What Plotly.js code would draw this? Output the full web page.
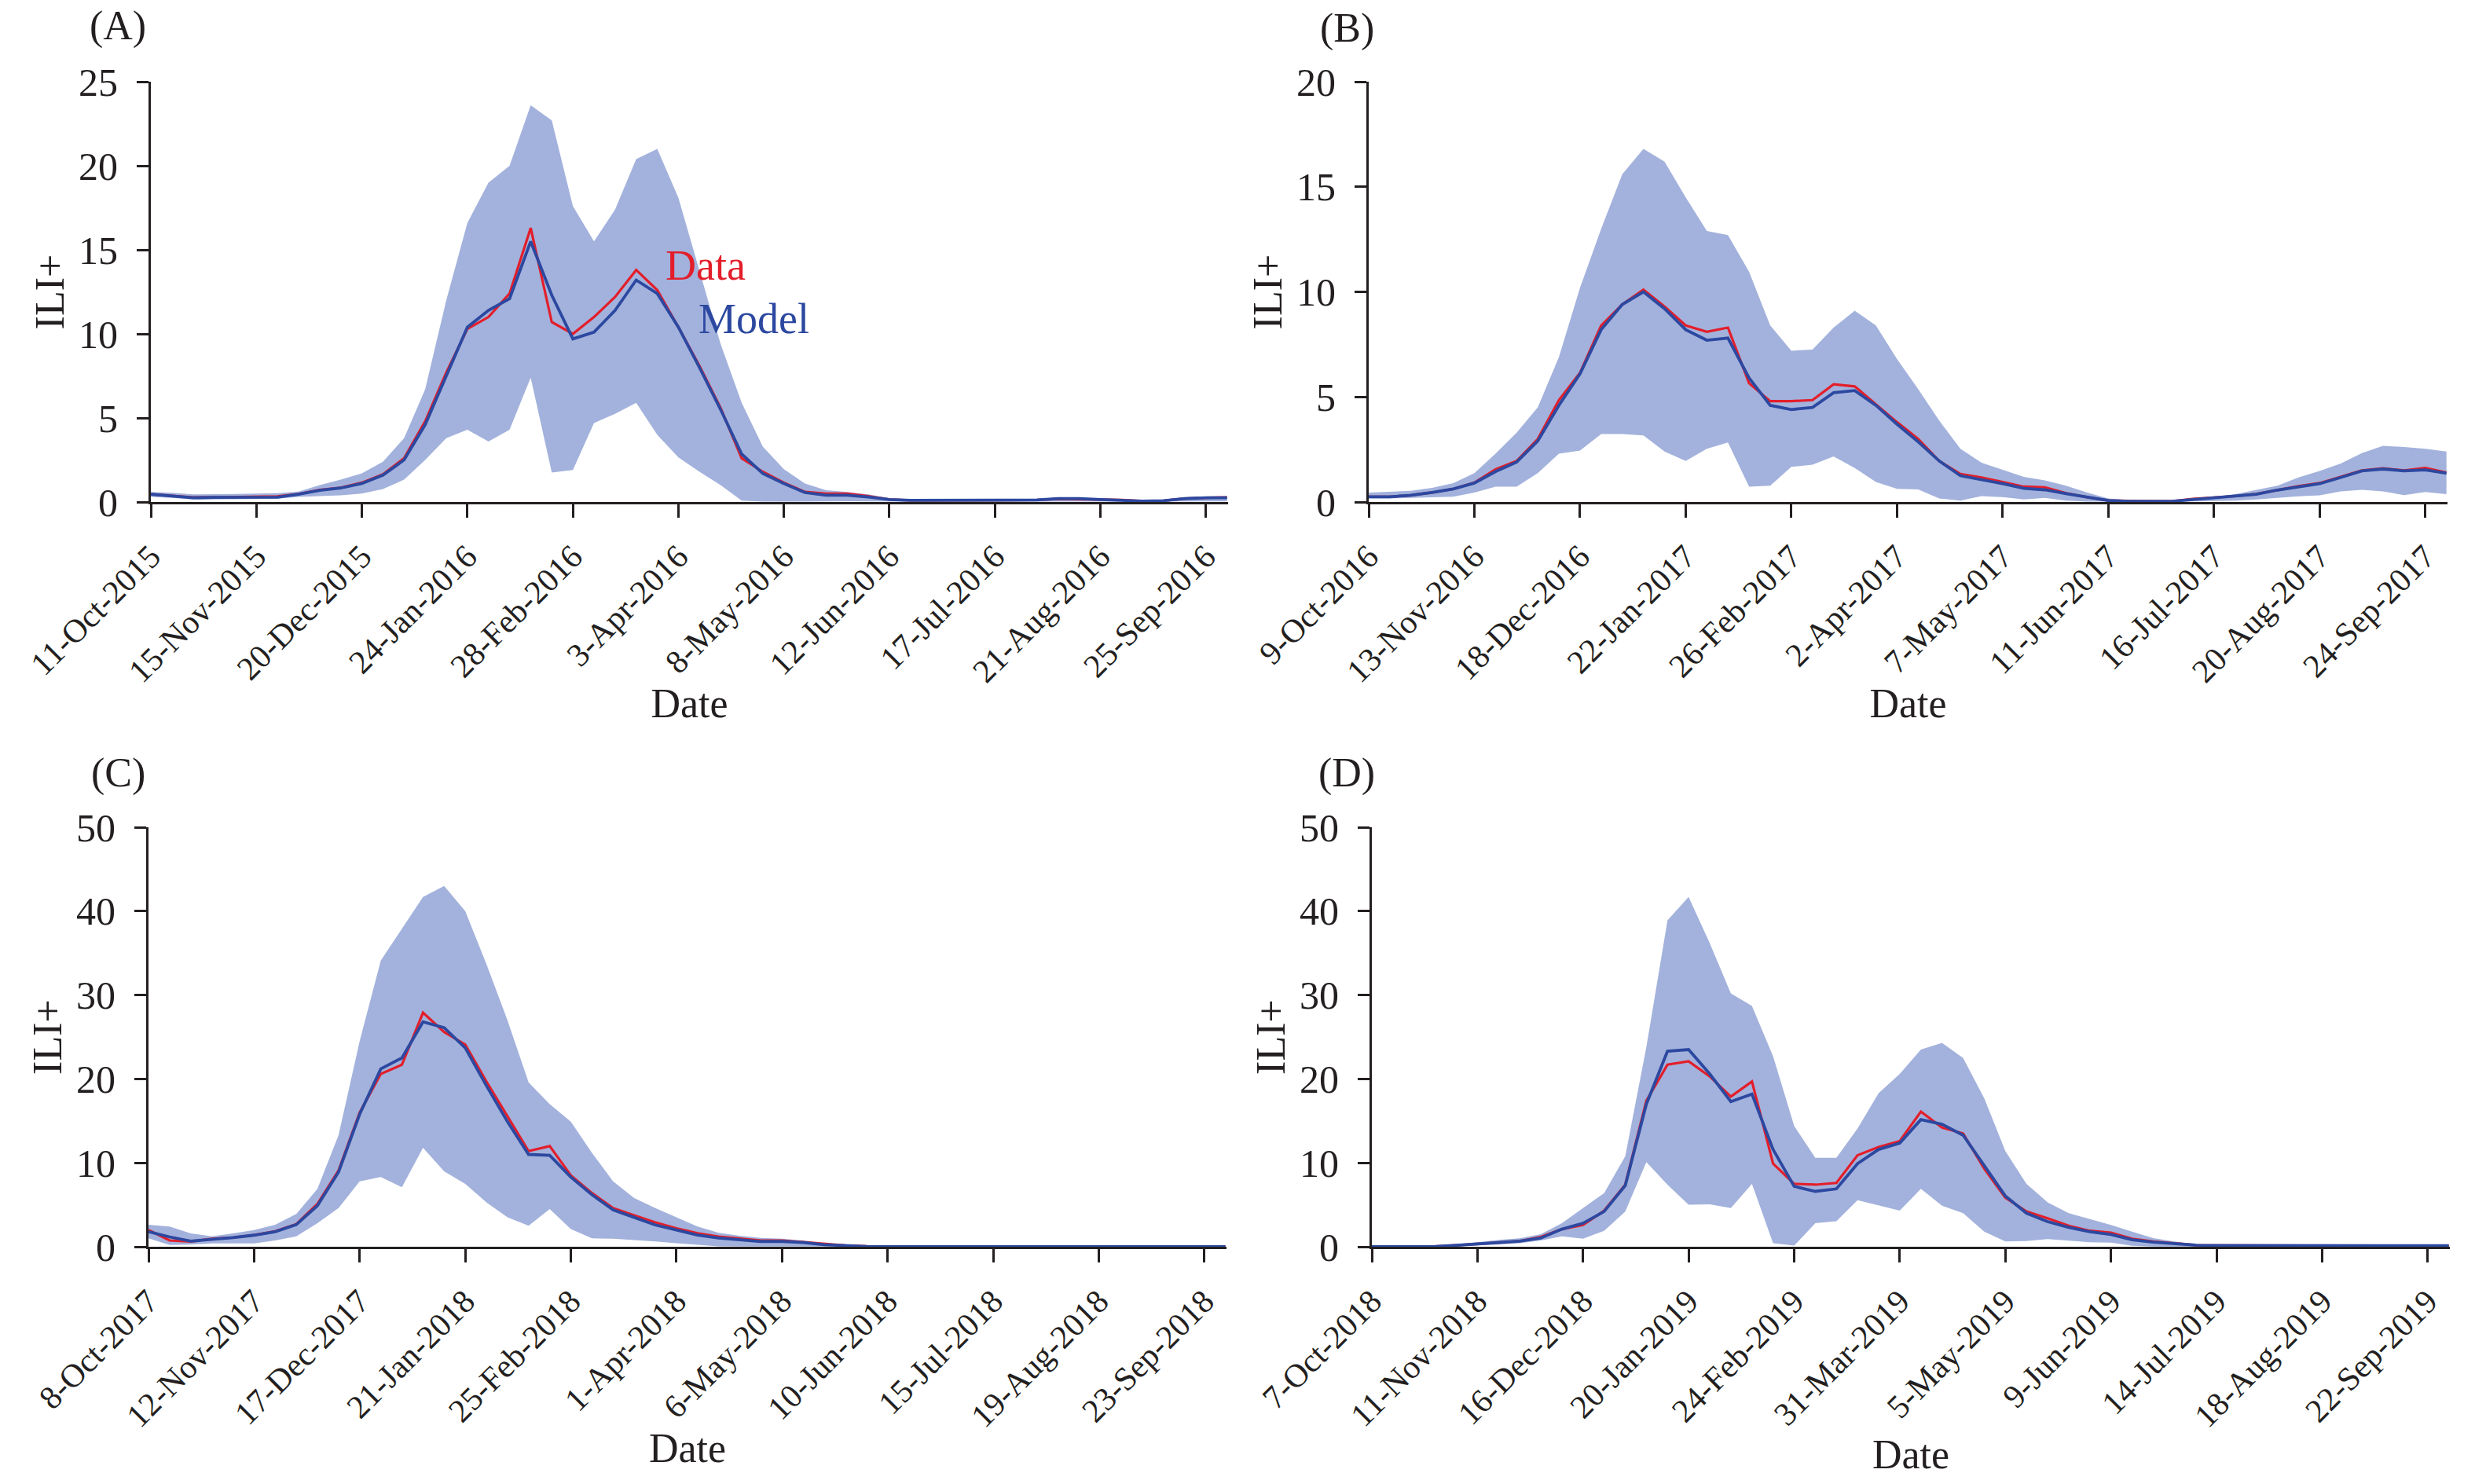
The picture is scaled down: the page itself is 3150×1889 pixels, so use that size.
<!DOCTYPE html>
<html>
<head>
<meta charset="utf-8">
<script src="https://cdn.plot.ly/plotly-3.0.1.min.js"></script>
<style>
  html, body { margin: 0; padding: 0; background: #ffffff; }
  #chart { width: 3150px; height: 1889px; }
</style>
</head>
<body>
<div id="chart"></div>
<script>
// ---------------- DATA (weekly values, 52 weeks per season) ----------------
const tickWeeks = [0, 5, 10, 15, 20, 25, 30, 35, 40, 45, 50];

const ticksA = ['11-Oct-2015','15-Nov-2015','20-Dec-2015','24-Jan-2016','28-Feb-2016','3-Apr-2016','8-May-2016','12-Jun-2016','17-Jul-2016','21-Aug-2016','25-Sep-2016'];
const ticksB = ['9-Oct-2016','13-Nov-2016','18-Dec-2016','22-Jan-2017','26-Feb-2017','2-Apr-2017','7-May-2017','11-Jun-2017','16-Jul-2017','20-Aug-2017','24-Sep-2017'];
const ticksC = ['8-Oct-2017','12-Nov-2017','17-Dec-2017','21-Jan-2018','25-Feb-2018','1-Apr-2018','6-May-2018','10-Jun-2018','15-Jul-2018','19-Aug-2018','23-Sep-2018'];
const ticksD = ['7-Oct-2018','11-Nov-2018','16-Dec-2018','20-Jan-2019','24-Feb-2019','31-Mar-2019','5-May-2019','9-Jun-2019','14-Jul-2019','18-Aug-2019','22-Sep-2019'];

// Panel A: 2015-2016
const dataA  = [0.46,0.35,0.27,0.28,0.3,0.32,0.33,0.48,0.72,0.85, 1.15,1.65,2.6,4.8,7.7,10.3,11.0,12.4,16.3,10.7, 10.0,11.0,12.2,13.8,12.6,10.4,8.1,5.6,2.6,1.8, 1.15,0.6,0.5,0.5,0.35,0.15,0.1,0.1,0.1,0.1, 0.1,0.1,0.12,0.18,0.18,0.15,0.12,0.05,0.08,0.2, 0.25,0.28];
const modelA = [0.46,0.35,0.25,0.27,0.28,0.29,0.29,0.46,0.7,0.83, 1.1,1.6,2.5,4.6,7.5,10.4,11.4,12.1,15.5,12.3, 9.7,10.1,11.4,13.2,12.4,10.4,8.0,5.5,2.85,1.7, 1.1,0.56,0.4,0.4,0.3,0.15,0.1,0.1,0.1,0.1, 0.1,0.1,0.12,0.2,0.2,0.15,0.12,0.05,0.08,0.2, 0.25,0.25];
const upperA = [0.6,0.55,0.45,0.45,0.48,0.5,0.52,0.62,1.0,1.33, 1.7,2.4,3.8,6.7,12.0,16.6,19.0,20.0,23.6,22.7, 17.6,15.5,17.4,20.4,21.0,18.1,13.8,9.4,5.9,3.3, 1.95,1.1,0.7,0.6,0.45,0.22,0.15,0.13,0.13,0.13, 0.13,0.14,0.16,0.25,0.25,0.2,0.16,0.1,0.15,0.28, 0.33,0.35];
const lowerA = [0.3,0.25,0.15,0.15,0.17,0.18,0.2,0.3,0.35,0.4, 0.5,0.77,1.33,2.5,3.8,4.3,3.6,4.3,7.4,1.75, 1.9,4.7,5.25,5.9,4.0,2.65,1.8,1.0,0.08,0.02, 0.02,0.03,0.05,0.05,0.03,0.02,0.02,0.02,0.02,0.02, 0.02,0.02,0.02,0.03,0.03,0.02,0.02,0.01,0.02,0.03, 0.04,0.04];

// Panel B: 2016-2017
const dataB  = [0.25,0.25,0.32,0.45,0.62,0.92,1.55,1.95,3.0,4.85, 6.15,8.4,9.4,10.1,9.3,8.4,8.1,8.3,5.65,4.8, 4.8,4.85,5.6,5.5,4.65,3.8,3.0,1.95,1.33,1.17, 0.95,0.73,0.7,0.42,0.23,0.07,0.05,0.05,0.03,0.15, 0.2,0.28,0.38,0.58,0.75,0.9,1.2,1.5,1.6,1.5, 1.62,1.4];
const modelB = [0.25,0.25,0.32,0.45,0.62,0.9,1.45,1.9,2.9,4.6, 6.1,8.2,9.4,10.0,9.2,8.2,7.7,7.8,5.9,4.6, 4.4,4.5,5.2,5.3,4.6,3.7,2.87,1.95,1.25,1.07, 0.87,0.65,0.58,0.4,0.23,0.07,0.03,0.03,0.03,0.12, 0.2,0.27,0.37,0.57,0.73,0.87,1.17,1.48,1.57,1.48, 1.53,1.37];
const upperB = [0.45,0.48,0.53,0.67,0.9,1.37,2.3,3.3,4.5,6.9, 10.2,13.0,15.6,16.8,16.2,14.5,12.9,12.7,10.95,8.4, 7.2,7.25,8.3,9.1,8.4,6.8,5.37,3.87,2.53,1.87, 1.53,1.2,1.03,0.78,0.45,0.17,0.08,0.07,0.07,0.13, 0.23,0.37,0.57,0.78,1.17,1.48,1.83,2.33,2.67,2.62, 2.53,2.4];
const lowerB = [0.17,0.17,0.2,0.23,0.25,0.45,0.73,0.73,1.37,2.3, 2.45,3.23,3.23,3.17,2.4,1.95,2.53,2.83,0.73,0.78, 1.67,1.78,2.17,1.62,0.95,0.63,0.6,0.17,0.07,0.28, 0.23,0.12,0.2,0.07,0.02,0.02,0.02,0.02,0.02,0.03, 0.05,0.07,0.12,0.2,0.27,0.32,0.5,0.58,0.5,0.33, 0.48,0.37];

// Panel C: 2017-2018
const dataC  = [2.0,0.75,0.63,0.96,1.1,1.4,1.85,2.7,5.1,9.1, 16.0,20.6,21.7,27.9,25.6,24.1,19.7,15.6,11.4,12.0, 8.5,6.4,4.6,3.75,2.9,2.2,1.6,1.2,0.96,0.75, 0.75,0.55,0.33,0.15,0.05,0.02,0.02,0.02,0.02,0.02, 0.02,0.02,0.02,0.02,0.02,0.02,0.02,0.02,0.02,0.02, 0.02,0.02];
const modelC = [1.8,1.17,0.67,0.88,1.08,1.38,1.8,2.63,4.9,8.9, 15.8,21.2,22.5,26.8,26.1,23.7,19.2,14.9,11.0,10.9, 8.3,6.2,4.4,3.5,2.6,2.0,1.4,1.05,0.83,0.63, 0.63,0.5,0.25,0.12,0.04,0.02,0.02,0.02,0.02,0.02, 0.02,0.02,0.02,0.02,0.02,0.02,0.02,0.02,0.02,0.02, 0.02,0.02];
const upperC = [2.63,2.42,1.6,1.25,1.6,2.0,2.63,3.9,6.9,13.3, 24.5,34.1,37.9,41.7,43.0,40.0,33.7,27.0,19.6,17.0, 14.9,11.2,7.8,5.8,4.6,3.5,2.4,1.67,1.3,1.05, 0.96,0.75,0.42,0.2,0.08,0.04,0.03,0.03,0.03,0.03, 0.03,0.03,0.03,0.03,0.03,0.03,0.03,0.03,0.03,0.03, 0.03,0.03];
const lowerC = [1.0,0.2,0.25,0.4,0.4,0.4,0.75,1.25,2.8,4.6, 7.8,8.3,7.1,11.8,9.0,7.5,5.3,3.5,2.5,4.5, 2.1,1.0,0.96,0.83,0.63,0.42,0.2,0.05,0.02,0.01, 0,0,0,0,0,0,0,0,0,0, 0,0,0,0,0,0,0,0,0,0, 0,0];

// Panel D: 2018-2019
const dataD  = [0,0,0,0.04,0.17,0.33,0.46,0.67,1.17,2.1, 2.6,4.3,7.4,17.4,21.7,22.1,20.3,17.9,19.7,9.9, 7.5,7.4,7.6,10.9,11.9,12.6,16.1,14.2,13.5,9.3, 5.85,4.2,3.4,2.5,1.9,1.67,0.96,0.63,0.42,0.2, 0.15,0.15,0.15,0.15,0.15,0.15,0.15,0.15,0.15,0.15, 0.1,0.1];
const modelD = [0,0,0,0.04,0.17,0.33,0.46,0.67,1.04,2.1, 2.8,4.2,7.3,17.0,23.3,23.5,20.6,17.3,18.2,11.6, 7.2,6.6,6.9,9.9,11.6,12.35,15.15,14.6,13.3,9.7, 6.05,4.0,3.0,2.3,1.8,1.46,0.83,0.54,0.33,0.2, 0.15,0.15,0.15,0.18,0.15,0.15,0.15,0.18,0.15,0.15, 0.12,0.12];
const upperD = [0,0,0.02,0.1,0.25,0.54,0.83,1.0,1.5,2.8, 4.6,6.4,10.8,23.8,38.9,41.7,36.2,30.2,28.7,22.7, 14.4,10.6,10.6,14.1,18.3,20.6,23.5,24.3,22.5,17.7, 11.4,7.5,5.3,4.0,3.3,2.6,1.8,1.04,0.63,0.33, 0.25,0.2,0.2,0.2,0.2,0.2,0.2,0.2,0.2,0.2, 0.15,0.15];
const lowerD = [0,0,0,0.02,0.08,0.17,0.25,0.42,0.75,1.25, 0.96,1.9,4.2,10.1,7.4,5.0,5.05,4.6,7.5,0.42, 0.13,2.8,3.05,5.55,4.9,4.3,6.9,4.9,4.0,1.8, 0.63,0.67,0.92,0.75,0.54,0.5,0.12,0.02,0,0, 0,0,0,0,0,0,0,0,0,0, 0,0];

// ---------------- STYLE ----------------
const FONT = 'Liberation Serif, "Times New Roman", Times, serif';
const INK = '#231f20';
const RED = '#e31e2a';
const BLUE = '#2c48a0';
const BAND = '#a3b2dc';

const weeks = dataA.map((_, i) => i);

const panels = [
  {id: '',  data: dataA, model: modelA, upper: upperA, lower: lowerA, ticks: ticksA, yr: [0, 25], dt: 5,
   xd: [192/3150, 1563/3150], yd: [1 - 639/1889, 1 - 104/1889]},
  {id: '2', data: dataB, model: modelB, upper: upperB, lower: lowerB, ticks: ticksB, yr: [0, 20], dt: 5,
   xd: [1742/3150, 3115/3150], yd: [1 - 639/1889, 1 - 104/1889]},
  {id: '3', data: dataC, model: modelC, upper: upperC, lower: lowerC, ticks: ticksC, yr: [0, 50], dt: 10,
   xd: [189/3150, 1561/3150], yd: [1 - 1587/1889, 1 - 1053/1889]},
  {id: '4', data: dataD, model: modelD, upper: upperD, lower: lowerD, ticks: ticksD, yr: [0, 50], dt: 10,
   xd: [1746/3150, 3118/3150], yd: [1 - 1587/1889, 1 - 1053/1889]}
];

const traces = [];
const layout = {
  width: 3150, height: 1889,
  margin: {l: 0, r: 0, t: 0, b: 0, autoexpand: false},
  paper_bgcolor: '#ffffff', plot_bgcolor: '#ffffff',
  showlegend: false,
  font: {family: FONT, color: INK},
  annotations: []
};

panels.forEach(p => {
  const xa = 'x' + p.id, ya = 'y' + p.id;
  traces.push({x: weeks, y: p.lower, xaxis: xa, yaxis: ya, type: 'scatter', mode: 'lines',
               line: {width: 0, color: BAND}, hoverinfo: 'skip'});
  traces.push({x: weeks, y: p.upper, xaxis: xa, yaxis: ya, type: 'scatter', mode: 'lines',
               fill: 'tonexty', fillcolor: BAND, line: {width: 0, color: BAND}, hoverinfo: 'skip'});
  traces.push({x: weeks, y: p.data, xaxis: xa, yaxis: ya, type: 'scatter', mode: 'lines',
               name: 'Data', line: {width: 3.2, color: RED}});
  traces.push({x: weeks, y: p.model, xaxis: xa, yaxis: ya, type: 'scatter', mode: 'lines',
               name: 'Model', line: {width: 3.8, color: BLUE}});

  layout['xaxis' + p.id] = {
    domain: p.xd, anchor: ya, range: [0, 51.05],
    tickmode: 'array', tickvals: tickWeeks, ticktext: p.ticks, tickangle: -45,
    ticks: 'outside', ticklen: 17, tickwidth: 3, tickcolor: INK,
    showline: true, linewidth: 3, linecolor: INK,
    showgrid: false, zeroline: false, automargin: false, fixedrange: true,
    ticklabelstandoff: 8,
    tickfont: {family: FONT, size: 42, color: INK},
    title: {text: 'Date', font: {family: FONT, size: 52, color: INK}, standoff: 0}
  };
  layout['yaxis' + p.id] = {
    domain: p.yd, anchor: xa, range: p.yr, tick0: 0, dtick: p.dt,
    ticks: 'outside', ticklen: 15, tickwidth: 3, tickcolor: INK,
    showline: true, linewidth: 3, linecolor: INK,
    showgrid: false, zeroline: false, automargin: false, fixedrange: true,
    ticklabelstandoff: 14,
    tickfont: {family: FONT, size: 50, color: INK},
    title: {text: 'ILI+', font: {family: FONT, size: 52, color: INK}, standoff: 2}
  };
});

// panel letters
[['(A)', 150, 33], ['(B)', 1714, 36], ['(C)', 150, 984], ['(D)', 1714, 984]].forEach(([t, px, py]) => {
  layout.annotations.push({text: t, xref: 'paper', yref: 'paper', x: px/3150, y: 1 - py/1889,
    xanchor: 'center', yanchor: 'middle', showarrow: false,
    font: {family: FONT, size: 52, color: INK}});
});
// series labels inside panel A
layout.annotations.push({text: 'Data', xref: 'x', yref: 'y', x: 26.27, y: 14.07,
  xanchor: 'center', yanchor: 'middle', showarrow: false, font: {family: FONT, size: 54, color: RED}});
layout.annotations.push({text: 'Model', xref: 'x', yref: 'y', x: 28.57, y: 10.89,
  xanchor: 'center', yanchor: 'middle', showarrow: false, font: {family: FONT, size: 54, color: BLUE}});

Plotly.newPlot('chart', traces, layout, {staticPlot: true, displayModeBar: false});
</script>
</body>
</html>
